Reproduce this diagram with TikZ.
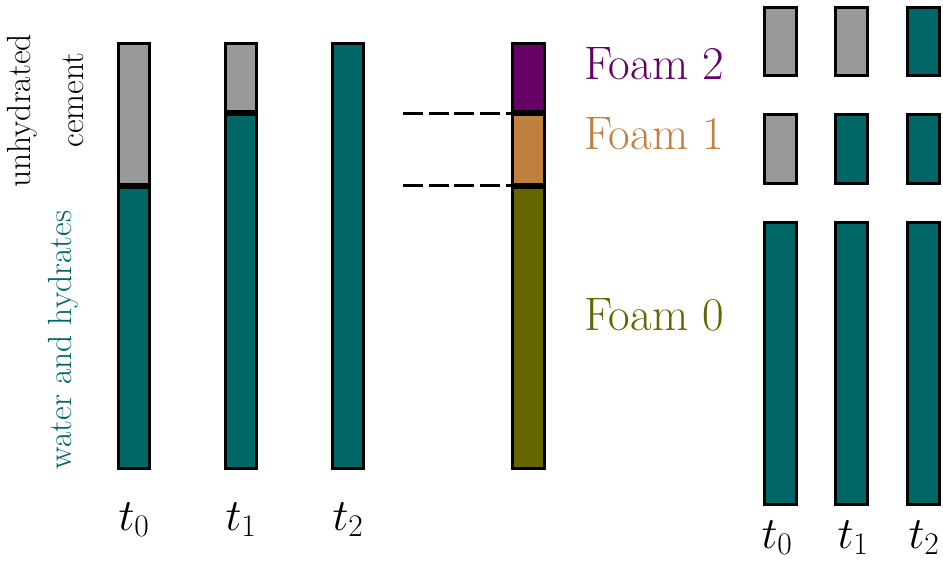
\RequirePackage{fix-cm}
\documentclass[tikz,border=0pt]{standalone}
\usetikzlibrary{calc}

\definecolor{hydr}{HTML}{006666}
\definecolor{cem}{HTML}{999999}
\definecolor{foamtwo}{HTML}{660066}
\definecolor{foamone}{HTML}{C08040}
\definecolor{foamzero}{HTML}{666600}

\tikzset{
  seg/.style={draw=black, line width=3pt, inner sep=0pt, outer sep=0pt,
              anchor=north west, minimum width=31pt},
  dashline/.style={draw=black, line width=3pt, dash pattern=on 20pt off 5.7pt},
  biglabel/.style={inner sep=0pt, font=\fontsize{47}{54}\selectfont},
  timelabel/.style={inner sep=0pt, anchor=base, font=\fontsize{45}{52}\selectfont},
  sidelabel/.style={inner sep=0pt, rotate=90, font=\fontsize{33.5}{40}\selectfont},
}

\begin{document}
\begin{tikzpicture}[x=1pt, y=-1pt]
\useasboundingbox (0,0) rectangle (943,562);

% volume columns over time
\node[seg, fill=cem,  minimum height=140.5pt] (a0) at (118.5,43.5) {};
\node[seg, fill=hydr, minimum height=281.5pt] (b0) at (118.5,187) {};
\node[seg, fill=cem,  minimum height=68pt]    (a1) at (225.5,43.5) {};
\node[seg, fill=hydr, minimum height=354pt]   (b1) at (225.5,114.5) {};
\node[seg, fill=hydr, minimum height=425pt]   (b2) at (332.5,43.5) {};

% foam partition column
\node[seg, fill=foamtwo,  minimum width=32pt, minimum height=68pt]    (f2) at (512.5,43.5) {};
\node[seg, fill=foamone,  minimum width=32pt, minimum height=69.5pt]  (f1) at (512.5,114.5) {};
\node[seg, fill=foamzero, minimum width=32pt, minimum height=281.5pt] (f0) at (512.5,187) {};

% dashed interface lines
\coordinate (d2) at (403,113);
\coordinate (d1) at (403,185);
\draw[dashline] (d2) -- (d2 -| f1.west);
\draw[dashline] (d1) -- (d1 -| f0.west);

% foam labels
\node[biglabel, anchor=base west, text=foamtwo]  (l2) at (584,79)  {Foam 2};
\node[biglabel, anchor=base west, text=foamone]  (l1) at (584,149) {Foam 1};
\node[biglabel, anchor=base west, text=foamzero] (l0) at (584,330) {Foam 0};

% per-foam states over time
\node[seg, fill=cem,  minimum width=32pt, minimum height=68pt]  (r20) at (764.5,7.5) {};
\node[seg, fill=cem,  minimum width=32pt, minimum height=68pt]  (r21) at (835.5,7.5) {};
\node[seg, fill=hydr, minimum width=32pt, minimum height=68pt]  (r22) at (907.5,7.5) {};
\node[seg, fill=cem,  minimum width=32pt, minimum height=69pt]  (r10) at (764.5,114.5) {};
\node[seg, fill=hydr, minimum width=32pt, minimum height=69pt]  (r11) at (835.5,114.5) {};
\node[seg, fill=hydr, minimum width=32pt, minimum height=69pt]  (r12) at (907.5,114.5) {};
\node[seg, fill=hydr, minimum width=32pt, minimum height=282pt] (r00) at (764.5,222.5) {};
\node[seg, fill=hydr, minimum width=32pt, minimum height=282pt] (r01) at (835.5,222.5) {};
\node[seg, fill=hydr, minimum width=32pt, minimum height=282pt] (r02) at (907.5,222.5) {};

% time labels
\node[timelabel] (t0) at (134,530) {$t_0$};
\node[timelabel] (t1) at (241,530) {$t_1$};
\node[timelabel] (t2) at (348,530) {$t_2$};
\node[timelabel] (s0) at (777,548) {$t_0$};
\node[timelabel] (s1) at (853,548) {$t_1$};
\node[timelabel] (s2) at (924,548) {$t_2$};

% phase labels
\node[sidelabel] (un) at (22,111) {unhydrated};
\node[sidelabel] (ce) at (73,100) {cement};
\node[sidelabel, text=hydr] (wa) at (63,340) {water and hydrates};
\end{tikzpicture}
\end{document}
